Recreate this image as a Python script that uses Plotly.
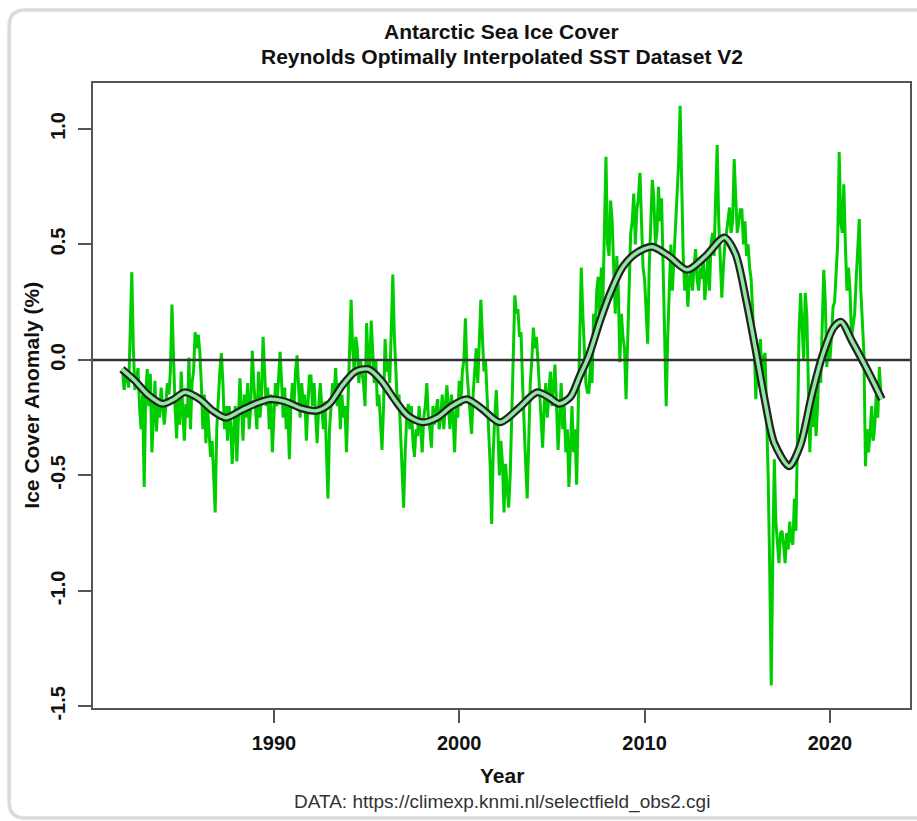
import plotly.graph_objects as go

# ---------------- data ----------------
start_year = 1981
start_month = 11  # first value is November 1981, monthly steps

anom_1981_1989 = [
    -0.04, -0.13,
    -0.08, -0.05, -0.12, 0.15, 0.38, 0.05, -0.13, -0.10, -0.035, -0.20, -0.30, -0.15,
    -0.55, -0.15, -0.04, -0.20, -0.06, -0.40, -0.22, -0.09, -0.31, -0.18, -0.25, -0.12,
    -0.20, -0.28, -0.20, -0.10, -0.15, -0.05, 0.24, 0.00, -0.20, -0.34, -0.15, -0.28,
    -0.05, -0.22, -0.35, -0.19, -0.25, 0.01, -0.30, -0.10, -0.05, 0.12, 0.05, 0.11,
    0.04, -0.10, -0.30, -0.15, -0.36, -0.20, -0.30, -0.42, -0.35, -0.50, -0.66, -0.30,
    -0.15, -0.05, 0.03, -0.10, -0.30, -0.20, -0.35, -0.20, -0.28, -0.45, -0.30, -0.20,
    -0.44, -0.25, -0.08, -0.20, -0.35, -0.15, -0.25, -0.10, -0.30, -0.20, 0.04, -0.10,
    -0.20, -0.30, -0.05, -0.25, -0.15, 0.10, -0.05, -0.20, -0.12, -0.30, -0.15, -0.40,
]
anom_1990_1999 = [
    -0.25, -0.10, -0.20, -0.05, 0.035, -0.10, -0.25, -0.12, -0.30, -0.20, -0.43, -0.20,
    -0.10, -0.20, -0.05, 0.02, -0.15, -0.25, -0.10, -0.20, -0.15, -0.35, -0.20, -0.07,
    -0.07, -0.20, -0.10, -0.25, -0.36, -0.20, -0.10, -0.20, -0.30, -0.18, -0.40, -0.60,
    -0.30, -0.20, -0.10, -0.15, -0.035, -0.20, -0.10, -0.30, -0.15, -0.25, -0.20, -0.40,
    -0.20, 0.05, 0.26, 0.05, -0.05, 0.10, 0.05, -0.10, 0.00, -0.05, -0.10, -0.20,
    0.16, 0.00, -0.05, 0.17, 0.05, -0.10, 0.00, -0.20, -0.15, -0.30, -0.39, -0.20,
    0.09, -0.05, 0.00, -0.10, 0.20, 0.37, 0.10, -0.03, -0.20, -0.15, -0.30, -0.45,
    -0.64, -0.40, -0.25, -0.19, -0.30, -0.20, -0.35, -0.42, -0.30, -0.33, -0.20, -0.30,
    -0.40, -0.25, -0.20, -0.10, -0.25, -0.30, -0.38, -0.20, -0.28, -0.22, -0.17, -0.30,
    -0.25, -0.15, -0.30, -0.20, -0.11, -0.20, -0.30, -0.15, -0.25, -0.40, -0.20, -0.25,
]
anom_2000_2009 = [
    -0.09, -0.20, -0.05, 0.00, 0.18, -0.05, -0.15, -0.25, -0.32, -0.15, -0.05, 0.05,
    -0.10, 0.10, 0.26, 0.10, -0.05, 0.00, -0.13, -0.30, -0.45, -0.71, -0.40, -0.25,
    -0.13, -0.30, -0.50, -0.35, -0.45, -0.66, -0.45, -0.55, -0.64, -0.50, -0.20, 0.00,
    0.28, 0.20, 0.22, 0.10, 0.12, -0.10, -0.30, -0.45, -0.60, -0.30, -0.10, 0.00,
    0.14, 0.05, 0.10, -0.01, -0.15, -0.25, -0.38, -0.20, -0.10, -0.25, -0.15, -0.05,
    -0.20, -0.10, -0.02, -0.20, -0.39, -0.25, -0.10, -0.30, -0.20, -0.40, -0.30, -0.55,
    -0.35, -0.20, -0.40, -0.30, -0.54, -0.20, 0.10, 0.40, 0.20, 0.05, -0.10, -0.14,
    -0.14, 0.00, -0.10, 0.20, 0.10, 0.30, 0.36, 0.15, 0.40, 0.25, 0.60, 0.88,
    0.50, 0.45, 0.69, 0.60, 0.40, 0.20, 0.45, 0.30, -0.01, 0.20, 0.10, 0.05,
    -0.17, 0.10, 0.30, 0.55, 0.60, 0.72, 0.50, 0.65, 0.70, 0.81, 0.60, 0.40,
]
anom_2010_2022 = [
    0.35, 0.20, 0.07, 0.40, 0.65, 0.78, 0.70, 0.50, 0.55, 0.75, 0.60, 0.70,
    0.40, 0.10, -0.20, 0.10, 0.32, 0.50, 0.30, 0.45, 0.60, 0.70, 0.85, 1.10,
    0.75, 0.45, 0.30, 0.40, 0.23, 0.35, 0.40, 0.30, 0.40, 0.48, 0.35, 0.30,
    0.40, 0.35, 0.45, 0.26, 0.35, 0.45, 0.30, 0.50, 0.55, 0.45, 0.70, 0.93,
    0.60, 0.45, 0.27, 0.40, 0.50, 0.55, 0.60, 0.66, 0.55, 0.60, 0.87, 0.70,
    0.55, 0.60, 0.65, 0.65, 0.50, 0.60, 0.45, 0.50, 0.40, 0.35, 0.20, 0.06,
    -0.17, 0.00, -0.05, 0.09, -0.10, 0.01, 0.03, -0.20, -0.50, -0.90, -1.41, -0.85,
    -0.43, -0.70, -0.80, -0.88, -0.75, -0.74, -0.80, -0.88, -0.75, -0.82, -0.70, -0.78,
    -0.80, -0.60, -0.74, -0.30, 0.12, 0.29, 0.10, 0.00, 0.29, 0.20, -0.10, -0.40,
    -0.20, -0.29, -0.10, -0.33, -0.20, 0.00, -0.10, 0.20, 0.39, 0.25, -0.03, 0.10,
    0.00, 0.10, 0.23, 0.25, 0.40, 0.50, 0.90, 0.60, 0.55, 0.76, 0.50, 0.30,
    0.40, 0.30, 0.10, 0.15, 0.20, 0.35, 0.50, 0.61, 0.30, 0.15, 0.03, -0.46,
    -0.30, -0.40, -0.32, -0.20, -0.35, -0.29, -0.15, -0.25, -0.03, -0.15,
]

smooth_years = [
    1981.8, 1982.5, 1983.2, 1984.0, 1984.6, 1985.2, 1986.0, 1986.7, 1987.4, 1988.2,
    1989.0, 1989.8, 1990.6, 1991.5, 1992.3, 1993.0, 1993.7, 1994.4, 1995.1, 1995.8,
    1996.5, 1997.2, 1998.0, 1998.8, 1999.6, 2000.4, 2001.2, 2002.2, 2003.2, 2004.2,
    2004.8, 2005.4, 2006.0, 2006.5, 2007.0, 2007.6, 2008.2, 2008.8, 2009.5, 2010.4,
    2011.3, 2012.3, 2013.3, 2014.3, 2014.9, 2015.5, 2016.0, 2016.5, 2017.0, 2017.8,
    2018.4, 2019.0, 2019.6, 2020.2, 2020.6, 2021.2, 2022.0, 2022.8,
]
smooth_values = [
    -0.04, -0.09, -0.15, -0.19, -0.17, -0.14, -0.17, -0.22, -0.25, -0.22,
    -0.19, -0.17, -0.18, -0.21, -0.22, -0.19, -0.11, -0.05, -0.04, -0.09,
    -0.17, -0.24, -0.27, -0.25, -0.20, -0.17, -0.21, -0.27, -0.21, -0.14,
    -0.16, -0.19, -0.16, -0.07, 0.02, 0.17, 0.30, 0.40, 0.46, 0.49,
    0.45, 0.39, 0.45, 0.53, 0.46, 0.25, 0.04, -0.18, -0.36, -0.46,
    -0.37, -0.16, 0.02, 0.14, 0.165, 0.08, -0.04, -0.17,
]

x_ticks = [1990, 2000, 2010, 2020]
y_ticks = [-1.5, -1.0, -0.5, 0.0, 0.5, 1.0]
y_tick_labels = ["-1.5", "-1.0", "-0.5", "0.0", "0.5", "1.0"]
x_range = [1980.24, 2024.32]
y_range = [-1.507, 1.199]

# ---------------- build ----------------
anomaly = anom_1981_1989 + anom_1990_1999 + anom_2000_2009 + anom_2010_2022
years = [start_year + (start_month - 1 + i) / 12.0 for i in range(len(anomaly))]

FONT = "Liberation Sans, Arial, Helvetica, sans-serif"
AXC = "#555555"
TXT = "#111111"

fig = go.Figure()
fig.add_trace(go.Scatter(x=years, y=anomaly, mode="lines",
                         line=dict(color="#00CD00", width=3), hoverinfo="skip"))
fig.add_trace(go.Scatter(x=x_range, y=[0, 0], mode="lines",
                         line=dict(color="#333333", width=2.5), hoverinfo="skip"))
fig.add_trace(go.Scatter(x=smooth_years, y=smooth_values, mode="lines",
                         line=dict(color="#222222", width=8, shape="spline", smoothing=0.8),
                         hoverinfo="skip"))
fig.add_trace(go.Scatter(x=smooth_years, y=smooth_values, mode="lines",
                         line=dict(color="#8FE8A0", width=3.5, shape="spline", smoothing=0.8),
                         hoverinfo="skip"))

L, R, T, B = 93, 5, 83, 113
W, H = 917, 821
pw, ph = W - L - R, H - T - B


def px(xp):
    return (xp - L) / pw


def py(yp):
    return (H - B - yp) / ph


# card frame with rounded corners
x0, y0, y1, x1 = px(9), py(10), py(818), px(940)
rx, ry = 16 / pw, 16 / ph
card = (f"M {x1},{y0} L {x0 + rx},{y0} Q {x0},{y0} {x0},{y0 - ry} "
        f"L {x0},{y1 + ry} Q {x0},{y1} {x0 + rx},{y1} L {x1},{y1}")

fig.update_layout(
    width=W, height=H,
    margin=dict(l=L, r=R, t=T, b=B),
    paper_bgcolor="white", plot_bgcolor="white",
    showlegend=False,
    font=dict(family=FONT, color=TXT),
    shapes=[
        dict(type="path", path=card, xref="paper", yref="paper",
             line=dict(color="#e4e4e4", width=4), layer="below"),
        dict(type="path", path=card, xref="paper", yref="paper",
             line=dict(color="#cfcfcf", width=1.2), layer="below"),
    ],
    annotations=[
        dict(text="Antarctic Sea Ice Cover", x=0.5, y=py(31), xref="paper", yref="paper",
             showarrow=False, yanchor="middle",
             font=dict(size=21, family=FONT, weight="bold", color=TXT)),
        dict(text="Reynolds Optimally Interpolated SST Dataset V2", x=0.5, y=py(56),
             xref="paper", yref="paper", showarrow=False, yanchor="middle",
             font=dict(size=21, family=FONT, weight="bold", color=TXT)),
        dict(text="Year", x=0.5, y=py(775), xref="paper", yref="paper",
             showarrow=False, yanchor="middle",
             font=dict(size=21, family=FONT, weight="bold", color=TXT)),
        dict(text="DATA: https://climexp.knmi.nl/selectfield_obs2.cgi", x=0.5, y=py(802),
             xref="paper", yref="paper", showarrow=False, yanchor="middle",
             font=dict(size=19, family=FONT, color="#333333")),
        dict(text="Ice Cover Anomaly (%)", x=px(31), y=0.5, xref="paper", yref="paper",
             showarrow=False, textangle=-90, xanchor="center", yanchor="middle",
             font=dict(size=21, family=FONT, weight="bold", color=TXT)),
    ],
)

fig.update_xaxes(
    range=x_range, tickvals=x_ticks, ticks="outside", ticklen=13, tickwidth=1.5,
    tickcolor=AXC, showline=True, linecolor=AXC, linewidth=1.5, mirror=True,
    showgrid=False, zeroline=False, ticklabelstandoff=3,
    tickfont=dict(size=20, family=FONT, weight="bold", color=TXT),
)
fig.update_yaxes(
    range=y_range, tickvals=y_ticks, ticktext=y_tick_labels, tickangle=-90,
    ticks="outside", ticklen=13, tickwidth=1.5, tickcolor=AXC,
    showline=True, linecolor=AXC, linewidth=1.5, mirror=True,
    showgrid=False, zeroline=False, ticklabelstandoff=5,
    tickfont=dict(size=20, family=FONT, weight="bold", color=TXT),
)

fig.write_html("out.html", config={"displayModeBar": False},
               post_script="document.body.style.margin='0';")
